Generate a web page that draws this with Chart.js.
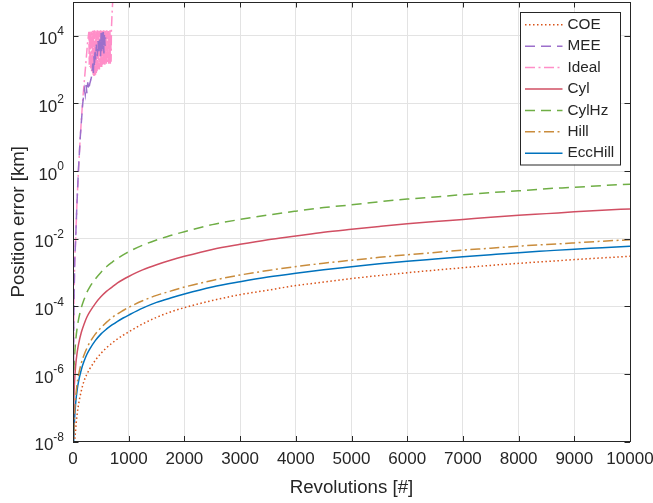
<!DOCTYPE html>
<html>
<head>
<meta charset="utf-8">
<script src="https://cdn.jsdelivr.net/npm/chart.js@4.4.1/dist/chart.umd.min.js"></script>
<style>
  html, body { margin: 0; padding: 0; background: #fff; }
  #wrap { width: 653px; height: 503px; }
</style>
</head>
<body>
<div id="wrap"><canvas id="chart" width="653" height="503"></canvas></div>
<script>
/* Position error vs. revolutions — propagation model comparison */

// ── Data ───────────────────────────────────────────────────
const revs = [2, 5, 10, 25, 50, 75, 100, 150, 200, 250, 300, 400, 500, 600, 700, 800, 900, 1000, 1250, 1500,
  1750, 2000, 2500, 3000, 3500, 4000, 4500, 5000, 5500, 6000, 6500, 7000, 7500, 8000, 8500, 9000, 9500, 10000];

const errCOE = [1e-11, 1e-10, 4e-10, 5e-9, 2.5e-8, 6.5e-8, 1.26e-7, 3.2e-7, 6.3e-7, 9.8e-7,
  1.4e-6, 2.5e-6, 4.0e-6, 5.9e-6, 8.1e-6, 1.08e-5, 1.39e-5, 1.74e-5, 3.0e-5, 4.7e-5,
  6.8e-5, 9.1e-5, 1.48e-4, 2.2e-4, 3.0e-4, 4.1e-4, 5.2e-4, 6.6e-4, 8.1e-4, 9.8e-4,
  1.17e-3, 1.38e-3, 1.62e-3, 1.86e-3, 2.11e-3, 2.4e-3, 2.7e-3, 3.0e-3];

const errCyl = [3.0e-9, 1.9e-8, 7.6e-8, 4.8e-7, 1.9e-6, 4.3e-6, 7.6e-6, 1.7e-5, 3.0e-5, 4.8e-5,
  6.8e-5, 1.2e-4, 1.9e-4, 2.75e-4, 3.7e-4, 4.9e-4, 6.2e-4, 7.6e-4, 1.19e-3, 1.7e-3,
  2.3e-3, 3.0e-3, 4.8e-3, 6.8e-3, 9.3e-3, 1.2e-2, 1.55e-2, 1.9e-2, 2.3e-2, 2.75e-2,
  3.2e-2, 3.7e-2, 4.3e-2, 4.9e-2, 5.5e-2, 6.2e-2, 6.9e-2, 7.6e-2];

const errCylHz = [1.6e-8, 1.0e-7, 4.1e-7, 2.6e-6, 1.0e-5, 2.3e-5, 4.1e-5, 9.1e-5, 1.6e-4, 2.6e-4,
  3.7e-4, 6.4e-4, 1.0e-3, 1.48e-3, 2.0e-3, 2.6e-3, 3.3e-3, 4.1e-3, 6.4e-3, 9.1e-3,
  1.24e-2, 1.6e-2, 2.6e-2, 3.7e-2, 5.0e-2, 6.5e-2, 8.3e-2, 0.10, 0.124, 0.148,
  0.172, 0.20, 0.23, 0.26, 0.30, 0.33, 0.37, 0.41];

const errHill = [3.7e-10, 2.3e-9, 9.3e-9, 5.8e-8, 2.3e-7, 5.2e-7, 9.3e-7, 2.1e-6, 3.7e-6, 5.8e-6,
  8.4e-6, 1.5e-5, 2.3e-5, 3.35e-5, 4.6e-5, 6.0e-5, 7.5e-5, 9.3e-5, 1.46e-4, 2.1e-4,
  2.8e-4, 3.7e-4, 5.8e-4, 8.4e-4, 1.14e-3, 1.49e-3, 1.88e-3, 2.3e-3, 2.8e-3, 3.35e-3,
  3.9e-3, 4.6e-3, 5.2e-3, 6.0e-3, 6.7e-3, 7.5e-3, 8.4e-3, 9.3e-3];

const errEccHill = [2.4e-10, 1.5e-9, 6.0e-9, 3.8e-8, 1.5e-7, 3.4e-7, 6.0e-7, 1.35e-6, 2.4e-6, 3.8e-6,
  5.4e-6, 9.6e-6, 1.5e-5, 2.1e-5, 2.8e-5, 3.6e-5, 4.5e-5, 5.5e-5, 8.8e-5, 1.3e-4,
  1.75e-4, 2.3e-4, 3.7e-4, 5.3e-4, 7.3e-4, 9.5e-4, 1.2e-3, 1.47e-3, 1.8e-3, 2.15e-3,
  2.5e-3, 2.9e-3, 3.35e-3, 3.85e-3, 4.35e-3, 4.9e-3, 5.4e-3, 6.0e-3];

// MEE and Ideal blow up early and oscillate, so they carry their own x samples
const meeRevs = [2, 8, 18, 30, 48, 70, 97, 130, 175, 205, 220, 235, 250, 265, 280, 300, 320, 340, 355,
  365, 375, 385, 395, 405, 420, 435, 450, 465, 480, 495, 505, 515, 525, 535, 545, 555, 565, 575, 585];
const errMEE = [1e-9, 2e-6, 1.5e-4, 2e-3, 1e-2, 1e-1, 1, 10, 100, 260, 180, 350, 200, 420, 250, 380, 500, 700, 1500,
  800, 2500, 1200, 4000, 2000, 5500, 2500, 7000, 3000, 9000, 2500, 12000, 3500, 14000, 4000, 13000, 3000, 12000, 5000, 9000];

const idealRevs = [2, 8, 18, 30, 48, 70, 97, 130, 170, 200, 230, 260, 285,
  292, 299, 306, 313, 320, 327, 334, 341, 348, 355, 362, 369, 376, 383, 390, 397, 404, 411, 418, 425,
  432, 439, 446, 453, 460, 467, 474, 481, 488, 495, 502, 509, 516, 523, 530, 537, 544, 551, 558, 565,
  572, 579, 586, 593, 600, 607, 614, 621, 628, 635, 642, 649, 656, 663, 670, 677, 684,
  690, 700, 712, 725];
const errIdeal = [1e-9, 2e-6, 1.5e-4, 2e-3, 1e-2, 1e-1, 1, 10, 100, 400, 1500, 6000, 13000,
  1400, 14000, 1200, 13000, 1000, 14500, 900, 12000, 800, 14000,
  700, 13500, 650, 14500, 600, 12500, 700, 14000, 800, 13000,
  900, 14500, 1000, 12000, 1100, 14000, 1000, 13500, 1200, 14500,
  1300, 12500, 1200, 14000, 1400, 13000, 1300, 14500, 1500, 12000,
  1400, 14000, 1600, 13500, 1500, 14500, 1700, 12500, 1600, 14000,
  1500, 13000, 1600, 14500, 1500, 12000, 1700,
  16000, 40000, 100000, 300000];

const xTicks = [0, 1000, 2000, 3000, 4000, 5000, 6000, 7000, 8000, 9000, 10000];
const yTicks = [1e-8, 1e-6, 1e-4, 1e-2, 1e0, 1e2, 1e4];

// ── Style ──────────────────────────────────────────────────
const INK  = '#262626';
const GRID = '#e3e3e3';
const FONT = '"Liberation Sans", Arial, Helvetica, sans-serif';
const TICK = 5.5;

Chart.defaults.font.family = FONT;
Chart.defaults.color = INK;

const pts = (xs, ys) => xs.map((x, i) => ({ x, y: ys[i] }));

const series = [
  { label: 'COE',     xs: revs,      ys: errCOE,     color: '#D95319', dash: [1.5, 2.5],        smooth: true },
  { label: 'MEE',     xs: meeRevs,   ys: errMEE,     color: '#9C6FCB', dash: [10, 6],           smooth: false },
  { label: 'Ideal',   xs: idealRevs, ys: errIdeal,   color: '#FF8EC8', dash: [10, 3.5, 2, 3.5], smooth: false },
  { label: 'Cyl',     xs: revs,      ys: errCyl,     color: '#D14F63', dash: [],                smooth: true },
  { label: 'CylHz',   xs: revs,      ys: errCylHz,   color: '#6FAE45', dash: [10, 6],           smooth: true },
  { label: 'Hill',    xs: revs,      ys: errHill,    color: '#C98C3C', dash: [10, 3.5, 2, 3.5], smooth: true },
  { label: 'EccHill', xs: revs,      ys: errEccHill, color: '#0072BD', dash: [],                smooth: true },
];

// ── Frame, inside ticks, 10^n labels and boxed legend ──────
const matlabAxes = {
  id: 'matlabAxes',
  afterDatasetsDraw(chart) {
    const { ctx, chartArea: a, scales: { x, y } } = chart;
    ctx.save();
    ctx.setLineDash([]);
    ctx.strokeStyle = INK;
    ctx.lineWidth = 1;

    ctx.beginPath();
    xTicks.forEach(v => {
      const px = Math.round(x.getPixelForValue(v)) + 0.5;
      ctx.moveTo(px, a.bottom); ctx.lineTo(px, a.bottom - TICK);
      ctx.moveTo(px, a.top);    ctx.lineTo(px, a.top + TICK);
    });
    yTicks.forEach(v => {
      const py = Math.round(y.getPixelForValue(v)) + 0.5;
      ctx.moveTo(a.left, py);  ctx.lineTo(a.left + TICK, py);
      ctx.moveTo(a.right, py); ctx.lineTo(a.right - TICK, py);
    });
    ctx.stroke();
    ctx.strokeRect(Math.round(a.left) + 0.5, Math.round(a.top) + 0.5,
      Math.round(a.right - a.left), Math.round(a.bottom - a.top) - 1);

    // y tick labels as 10 with superscript exponent
    ctx.fillStyle = INK;
    ctx.textBaseline = 'middle';
    ctx.textAlign = 'left';
    const right = a.left - 9;
    yTicks.forEach(v => {
      const py = y.getPixelForValue(v);
      const exp = String(Math.round(Math.log10(v)));
      ctx.font = '12px ' + FONT;
      const we = ctx.measureText(exp).width;
      ctx.font = '17px ' + FONT;
      const wb = ctx.measureText('10').width;
      ctx.fillText('10', right - we - wb, py + 4);
      ctx.font = '12px ' + FONT;
      ctx.fillText(exp, right - we, py - 4);
    });

    // legend
    const box = { x: a.right - 110, y: a.top + 10, w: 100, h: 152.5 };
    ctx.fillStyle = '#fff';
    ctx.fillRect(box.x, box.y, box.w, box.h);
    ctx.strokeStyle = INK;
    ctx.lineWidth = 1;
    ctx.strokeRect(Math.round(box.x) + 0.5, Math.round(box.y) + 0.5, box.w, box.h);
    ctx.font = '15.3px ' + FONT;
    chart.data.datasets.forEach((ds, i) => {
      const cy = box.y + 12.8 + i * 21.4;
      ctx.strokeStyle = ds.borderColor;
      ctx.lineWidth = ds.borderWidth;
      ctx.setLineDash(ds.borderDash || []);
      ctx.beginPath();
      ctx.moveTo(box.x + 5, cy); ctx.lineTo(box.x + 42.5, cy);
      ctx.stroke();
      ctx.setLineDash([]);
      ctx.fillStyle = INK;
      ctx.fillText(ds.label, box.x + 47.5, cy);
    });
    ctx.restore();
  }
};

new Chart(document.getElementById('chart'), {
  type: 'line',
  data: {
    datasets: series.map(s => ({
      label: s.label,
      data: pts(s.xs, s.ys),
      borderColor: s.color,
      borderDash: s.dash,
      borderWidth: 1.5,
      pointRadius: 0,
      tension: 0,
      cubicInterpolationMode: s.smooth ? 'monotone' : 'default',
      fill: false,
    }))
  },
  options: {
    responsive: false,
    animation: false,
    events: [],
    layout: { padding: { left: 0, right: 23, top: 2, bottom: 0 } },
    plugins: { legend: { display: false }, tooltip: { enabled: false } },
    scales: {
      x: {
        type: 'linear', min: 0, max: 10000,
        afterBuildTicks: s => { s.ticks = xTicks.map(value => ({ value })); },
        afterFit: s => { s.height = 61.5; s.paddingLeft = 0; s.paddingRight = 0; },
        ticks: { font: { size: 17 }, padding: 8, maxRotation: 0, autoSkip: false, color: INK, callback: v => String(v) },
        grid: { color: GRID, drawTicks: false },
        border: { display: false },
        title: { display: true, text: 'Revolutions [#]', color: INK, font: { size: 18.7 }, padding: { top: 0, bottom: 4 } },
      },
      y: {
        type: 'logarithmic', min: 1e-8, max: 1e5,
        afterBuildTicks: s => { s.ticks = yTicks.map(value => ({ value })); },
        afterFit: s => { s.width = 73; s.paddingTop = 0; s.paddingBottom = 0; },
        ticks: { display: false },
        grid: { color: GRID, drawTicks: false },
        border: { display: false },
        title: { display: true, text: 'Position error [km]', color: INK, font: { size: 18.7 }, padding: { top: 8, bottom: 0 } },
      }
    }
  },
  plugins: [matlabAxes]
});
</script>
</body>
</html>
